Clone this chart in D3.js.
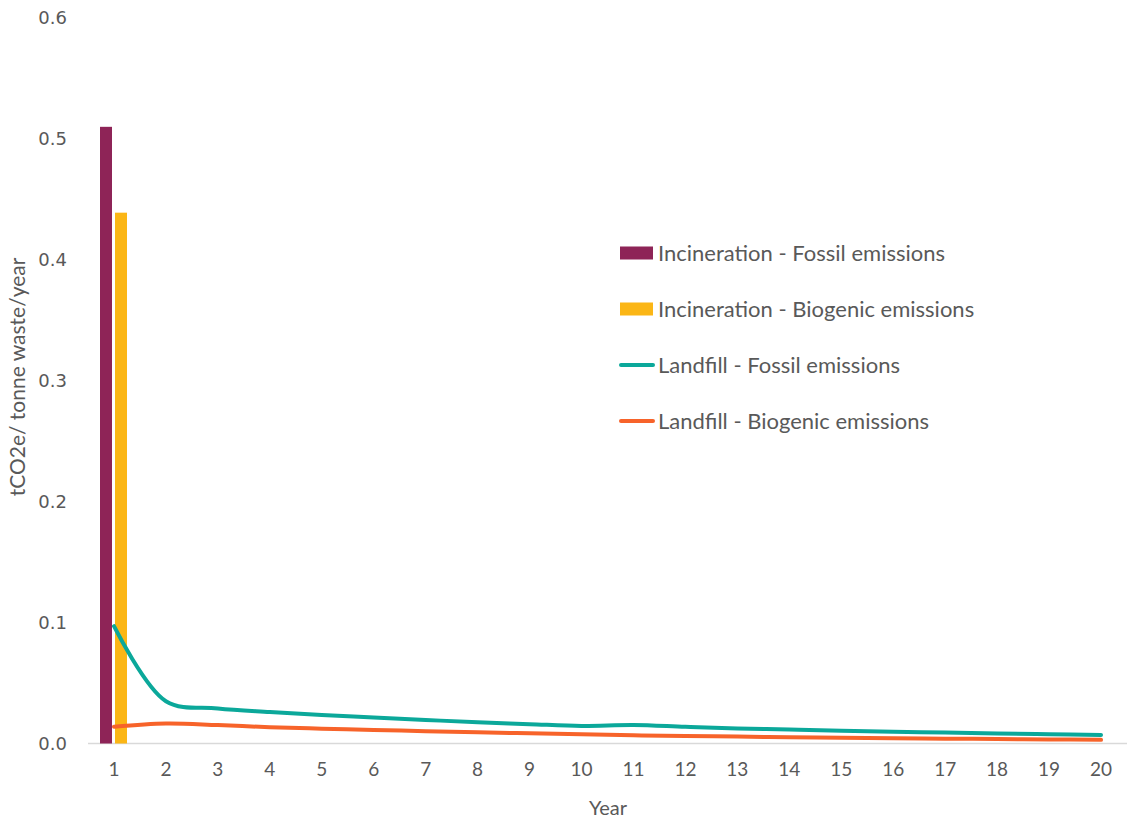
<!DOCTYPE html>
<html><head><meta charset="utf-8">
<script src="https://cdn.jsdelivr.net/npm/d3@7"></script>
<style>body{margin:0;background:#fff}svg{display:block}text{font-family:Lato,"Open Sans",sans-serif;fill:#595959}</style>
</head><body><div id="c"></div>
<script>
const years = d3.range(1, 21);
const yTicks = [0, 0.1, 0.2, 0.3, 0.4, 0.5, 0.6];
const incFossil = [0.51];
const incBiogenic = [0.439];
const lfFossil = [0.097,0.035,0.029,0.026,0.0235,0.0215,0.0195,0.0175,0.016,0.0145,0.0153,0.0138,0.0125,0.0115,0.0105,0.0098,0.009,0.0083,0.0076,0.007];
const lfBiogenic = [0.0138,0.0165,0.0152,0.0135,0.0123,0.0112,0.0102,0.0093,0.0084,0.0076,0.0068,0.0062,0.0057,0.0052,0.0048,0.0044,0.004,0.0037,0.0034,0.003];
const seriesNames = ["Incineration - Fossil emissions","Incineration - Biogenic emissions","Landfill - Fossil emissions","Landfill - Biogenic emissions"];
const colors = ["#8E2457","#FBB616","#0BA89A","#F7632A"];

const W=1129,H=821;
const svg=d3.select("#c").append("svg").attr("width",W).attr("height",H);
const x=d3.scaleBand().domain(years).range([88,1127]);
const y=d3.scaleLinear().domain([0,0.6]).range([743.5,18]);
const x1=d3.scaleBand().domain([0,1]).range([12,39]).paddingInner(0.2);

svg.append("g").selectAll("text").data(yTicks).join("text")
  .attr("x",67).attr("y",d=>y(d)).attr("dy","0.35em").attr("text-anchor","end")
  .style("font-family","'DejaVu Sans'").style("font-size","18px").text(d=>d.toFixed(1));
svg.append("line").attr("x1",88).attr("x2",1127).attr("y1",y(0)).attr("y2",y(0)).attr("stroke","#d9d9d9").attr("stroke-width",1.5);
svg.append("g").selectAll("text").data(years).join("text")
  .attr("x",d=>x(d)+x.bandwidth()/2).attr("y",776).attr("text-anchor","middle")
  .style("font-size","19px").text(d=>d);
svg.append("text").attr("x",608).attr("y",815).attr("text-anchor","middle").style("font-size","20px").text("Year");
svg.append("text").attr("transform","translate(25,377) rotate(-90)").attr("text-anchor","middle").style("font-size","21px").text("tCO2e/ tonne waste/year");

[incFossil,incBiogenic].forEach((arr,si)=>{
  svg.append("g").selectAll("rect").data(arr).join("rect")
    .attr("x",(d,i)=>x(years[i])+x1(si)).attr("width",x1.bandwidth())
    .attr("y",d=>y(d)).attr("height",d=>y(0)-y(d)).attr("fill",colors[si]);
});
const line=d3.line().x((d,i)=>x(years[i])+x.bandwidth()/2).y(d=>y(d)).curve(d3.curveCatmullRom.alpha(0.5));
[lfFossil,lfBiogenic].forEach((arr,k)=>{
  svg.append("path").datum(arr).attr("d",line).attr("fill","none").attr("stroke",colors[k+2]).attr("stroke-width",4).attr("stroke-linecap","round");
});

const lg=svg.append("g");
seriesNames.forEach((n,i)=>{
  const cy=253+i*56;
  if(i<2) lg.append("rect").attr("x",620).attr("y",cy-6.5).attr("width",33).attr("height",13).attr("fill",colors[i]);
  else lg.append("line").attr("x1",621).attr("x2",653).attr("y1",cy).attr("y2",cy).attr("stroke",colors[i]).attr("stroke-width",4).attr("stroke-linecap","round");
  lg.append("text").attr("x",658).attr("y",cy).attr("dy","0.35em").style("font-size","22px").text(n);
});
</script></body></html>
